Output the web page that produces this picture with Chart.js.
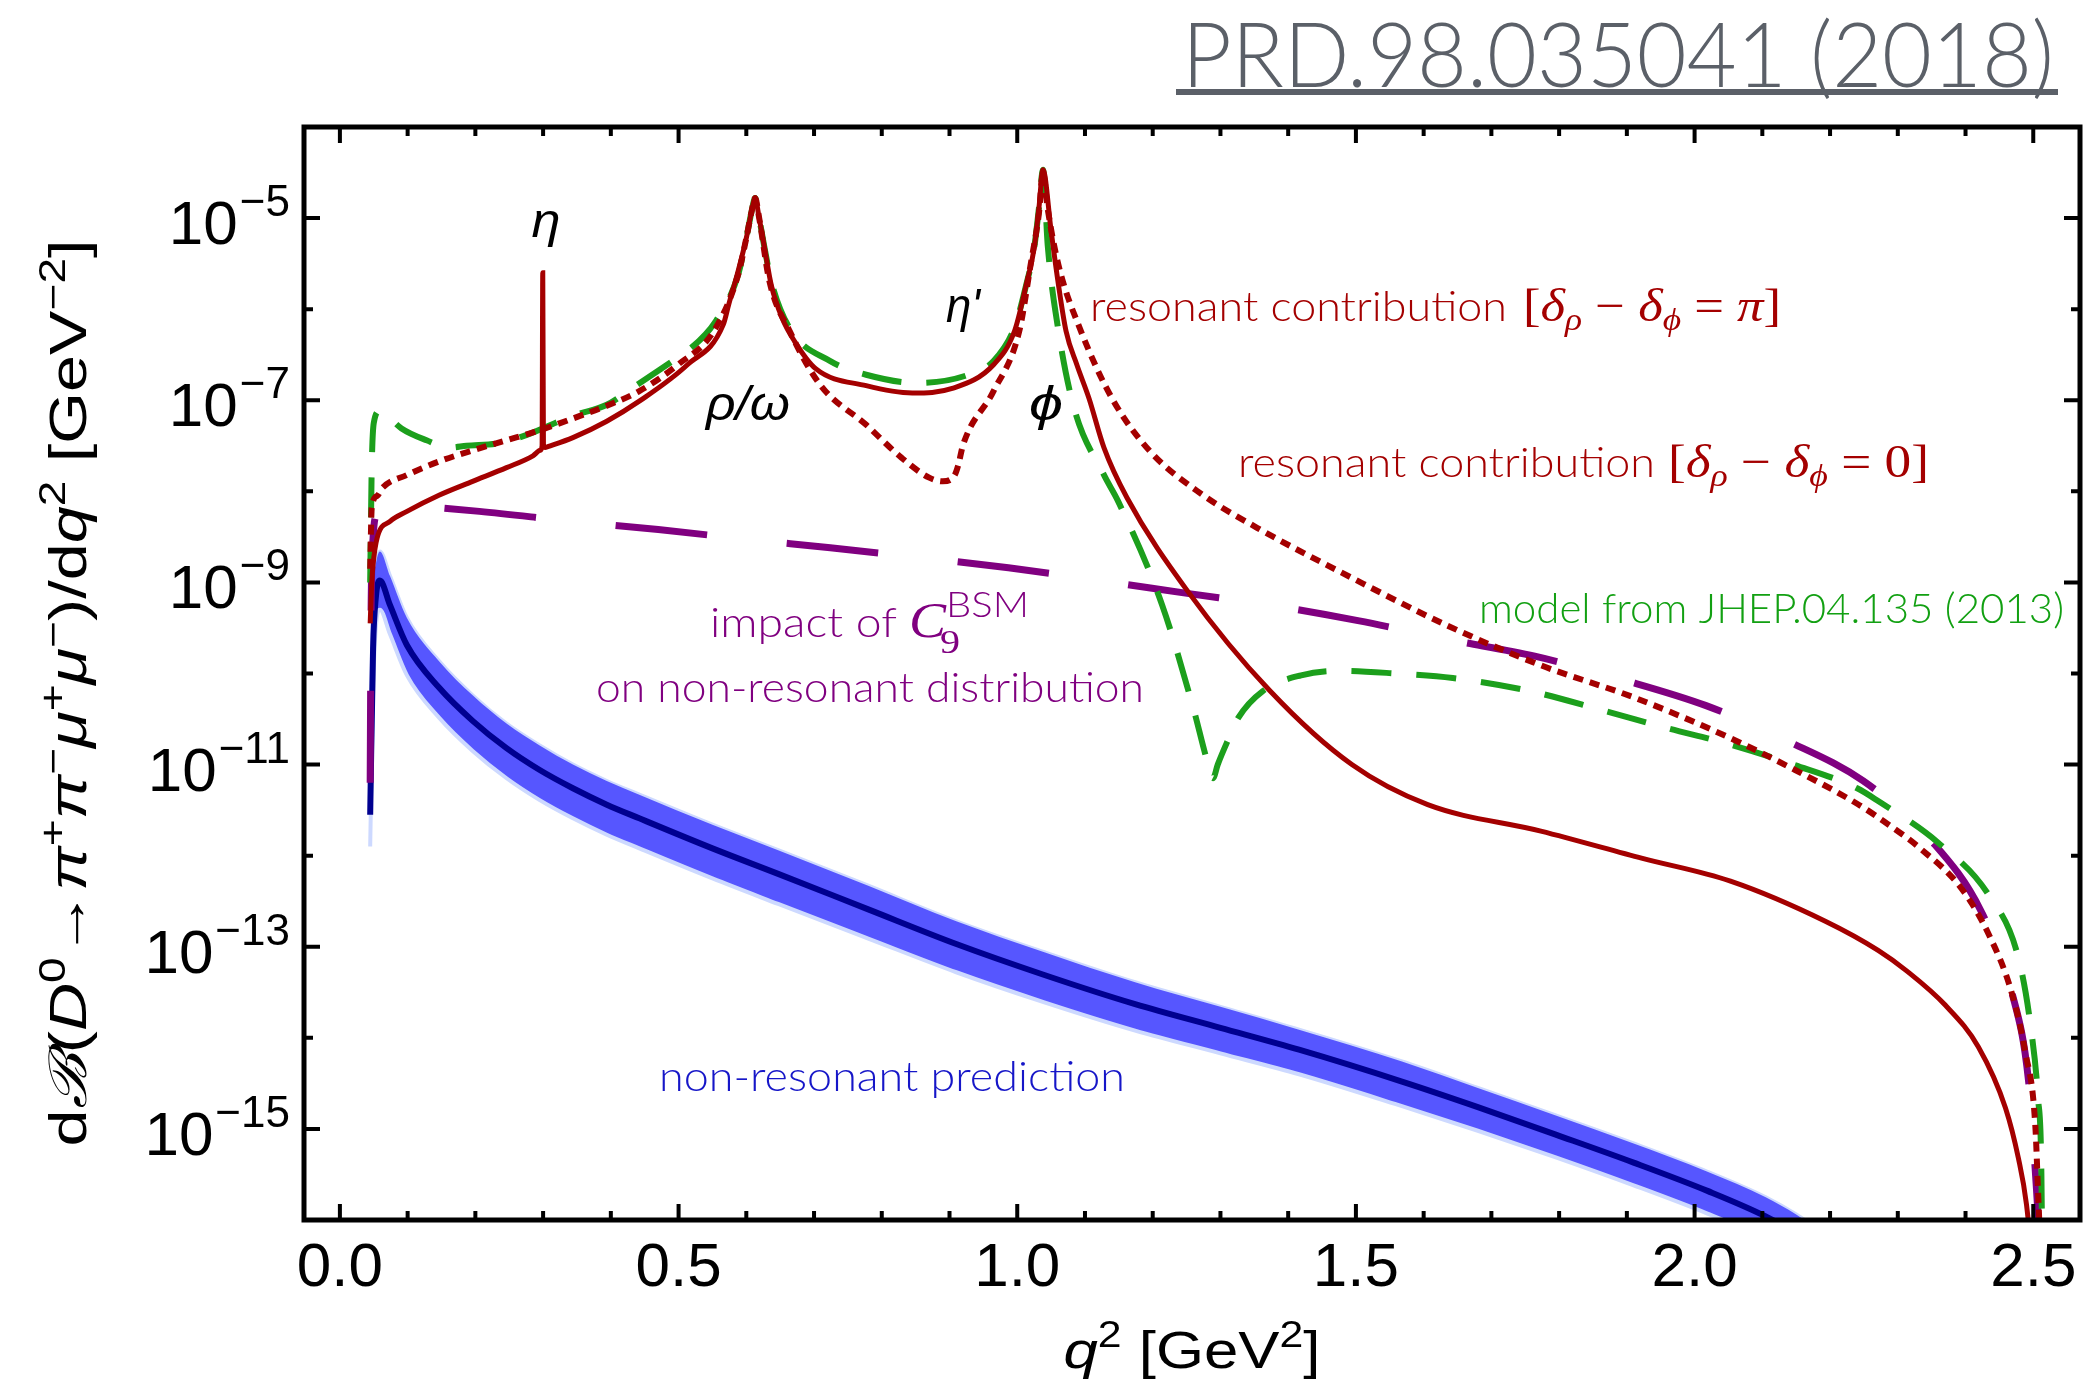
<!DOCTYPE html>
<html lang="en">
<head>
<meta charset="UTF-8">
<title>D0 to pi pi mu mu differential branching ratio</title>
<script src="https://cdn.jsdelivr.net/npm/chart.js"></script>
<style>
  html, body { margin: 0; padding: 0; background: #fff; }
  #wrap { width: 2091px; height: 1386px; }
</style>
</head>
<body>
<div id="wrap"><canvas id="myChart" width="2091" height="1386"></canvas></div>
<script>
// q^2 in GeV^2, curves stored as log10(dB/dq^2)

// resonant contribution, delta_rho - delta_phi = pi (solid)
const resPiQ = [0.0447,0.047,0.049,0.055,0.074,0.099,0.147,0.196,0.246,0.285,0.296,0.2985,0.2995,0.3005,0.303,0.307,0.344,0.394,0.442,0.513,0.566,0.574,0.588,0.600,0.608,0.613,0.619,0.627,0.637,0.653,0.671,0.702,0.777,0.845,0.904,0.965,0.996,1.013,1.025,1.032,1.038,1.050,1.060,1.072,1.088,1.106,1.128,1.162,1.251,1.373,1.494,1.606,1.773,1.923,2.053,2.193,2.271,2.314,2.370,2.419,2.459,2.478,2.490,2.497,2.502];
const resPiLog = [-9.45,-9.0,-8.80,-8.51,-8.33,-8.22,-8.04,-7.89,-7.74,-7.61,-7.55,-7.50,-5.60,-7.50,-7.52,-7.51,-7.41,-7.23,-7.01,-6.61,-6.17,-5.95,-5.58,-5.22,-4.92,-4.78,-5.0,-5.33,-5.74,-6.10,-6.35,-6.65,-6.84,-6.92,-6.87,-6.61,-6.24,-5.74,-5.33,-4.89,-4.47,-5.14,-5.69,-6.24,-6.61,-6.98,-7.52,-8.07,-9.09,-10.19,-11.00,-11.44,-11.73,-12.03,-12.28,-12.72,-13.04,-13.27,-13.64,-14.10,-14.77,-15.32,-15.83,-16.4,-17.2];

// resonant contribution, delta_rho - delta_phi = 0 (dotted)
const res0Q = [0.0447,0.047,0.055,0.063,0.099,0.147,0.196,0.246,0.295,0.344,0.394,0.442,0.499,0.552,0.588,0.600,0.608,0.613,0.619,0.634,0.664,0.709,0.777,0.829,0.870,0.890,0.907,0.913,0.920,0.965,1.003,1.020,1.032,1.038,1.045,1.061,1.094,1.140,1.196,1.274,1.354,1.494,1.634,1.773,1.913,2.053,2.146,2.240,2.271,2.333,2.394,2.434,2.468,2.488,2.503,2.507,2.510,2.512];
const res0Log = [-8.85,-8.18,-8.05,-7.96,-7.82,-7.67,-7.55,-7.44,-7.33,-7.20,-7.06,-6.90,-6.61,-6.24,-5.62,-5.22,-4.92,-4.78,-5.0,-5.69,-6.24,-6.83,-7.27,-7.63,-7.85,-7.89,-7.83,-7.71,-7.49,-6.90,-6.24,-5.50,-4.95,-4.50,-4.9,-5.52,-6.24,-6.98,-7.56,-8.04,-8.40,-8.95,-9.47,-9.91,-10.27,-10.71,-11.05,-11.43,-11.58,-11.92,-12.36,-12.86,-13.50,-14.15,-14.96,-15.68,-16.3,-17.2];

// model from JHEP.04.135 (dashed green)
const jhepQ = [0.0447,0.047,0.050,0.059,0.074,0.091,0.128,0.162,0.187,0.236,0.276,0.344,0.394,0.431,0.491,0.513,0.555,0.588,0.600,0.608,0.613,0.619,0.627,0.637,0.664,0.724,0.777,0.853,0.928,0.965,0.996,1.013,1.025,1.032,1.038,1.045,1.060,1.084,1.128,1.149,1.214,1.261,1.280,1.289,1.296,1.310,1.326,1.363,1.419,1.475,1.559,1.643,1.755,1.867,1.960,2.053,2.146,2.240,2.271,2.360,2.434,2.478,2.497,2.507,2.512,2.514];
const jhepLog = [-9.0,-7.74,-7.25,-7.12,-7.20,-7.31,-7.44,-7.52,-7.50,-7.47,-7.38,-7.17,-7.05,-6.87,-6.57,-6.46,-6.13,-5.62,-5.22,-4.92,-4.78,-5.0,-5.33,-5.70,-6.21,-6.57,-6.72,-6.81,-6.72,-6.57,-6.2,-5.74,-5.33,-4.89,-4.47,-5.3,-6.2,-7.09,-7.82,-8.11,-9.25,-10.41,-10.95,-11.15,-11.0,-10.75,-10.49,-10.19,-10.02,-9.97,-10.0,-10.05,-10.19,-10.41,-10.60,-10.78,-11.0,-11.26,-11.40,-11.86,-12.43,-13.12,-13.92,-14.66,-15.50,-17.2];

// non-resonant with C9 BSM (long dashes)
const bsmQ = [0.0447,0.046,0.049,0.055,0.063,0.081,0.206,0.344,0.470,0.606,0.724,0.860,0.987,1.122,1.251,1.382,1.503,1.639,1.764,1.895,2.016,2.137,2.249,2.350,2.423,2.468,2.493,2.503,2.509,2.512];
const bsmLog = [-11.2,-9.39,-8.51,-8.24,-8.13,-8.14,-8.22,-8.33,-8.42,-8.53,-8.62,-8.73,-8.84,-8.98,-9.12,-9.26,-9.42,-9.63,-9.81,-10.07,-10.35,-10.74,-11.18,-11.84,-12.61,-13.49,-14.47,-15.46,-16.3,-17.2];

// non-resonant SM prediction: central value and band edges
const nrQ = [0.0447,0.049,0.053,0.059,0.074,0.099,0.147,0.196,0.246,0.295,0.344,0.394,0.442,0.55,0.647,0.78,0.91,1.04,1.174,1.30,1.416,1.568,1.68,1.794,1.91,2.019,2.105,2.15,2.2];
const nrMid = [-11.55,-9.72,-9.17,-8.98,-9.25,-9.69,-10.16,-10.52,-10.82,-11.06,-11.26,-11.44,-11.59,-11.92,-12.20,-12.59,-12.97,-13.31,-13.63,-13.89,-14.13,-14.48,-14.76,-15.06,-15.37,-15.68,-15.96,-16.15,-16.4];
const nrHi = [-10.9,-9.1,-8.8,-8.66,-8.93,-9.39,-9.87,-10.24,-10.55,-10.79,-11.00,-11.18,-11.33,-11.66,-11.94,-12.33,-12.72,-13.06,-13.39,-13.66,-13.91,-14.26,-14.55,-14.85,-15.16,-15.47,-15.75,-15.94,-16.2];
const nrLo = [-11.9,-10.2,-9.5,-9.30,-9.57,-10.02,-10.49,-10.85,-11.15,-11.39,-11.59,-11.77,-11.92,-12.25,-12.53,-12.91,-13.28,-13.61,-13.92,-14.17,-14.40,-14.75,-15.02,-15.31,-15.62,-15.93,-16.21,-16.40,-16.65];

// axes
const xTickVals = [0, 0.5, 1, 1.5, 2, 2.5];
const xTickLabels = ['0.0', '0.5', '1.0', '1.5', '2.0', '2.5'];
const yTickExp = [-5, -7, -9, -11, -13, -15];

const RED = '#a40000', GREEN = '#1c9f1c', PURPLE = '#800080';
const SANS = '"Liberation Sans", Arial, sans-serif';
const SERIF = '"Liberation Serif", "Times New Roman", serif';
const THIN = 'Lato, "Open Sans", sans-serif';

function pts(qs, logs) {
  return qs.map((q, i) => ({ x: q, y: Math.pow(10, logs[i]) }));
}

// draws a run of differently styled pieces, squeezed to a given width
function rich(ctx, segs, x, y, width, align, color) {
  let w = 0;
  for (const s of segs) { ctx.font = s.f; s.w = ctx.measureText(s.t).width; w += s.w; }
  const k = width ? width / w : 1;
  const tw = w * k;
  const x0 = align === 'center' ? x - tw / 2 : align === 'right' ? x - tw : x;
  ctx.save();
  ctx.translate(x0, y);
  ctx.scale(k, 1);
  ctx.textAlign = 'left';
  ctx.textBaseline = 'alphabetic';
  let cx = 0;
  for (const s of segs) {
    ctx.font = s.f;
    ctx.fillStyle = s.c || color || '#000';
    ctx.fillText(s.t, cx, s.dy || 0);
    cx += s.w;
  }
  ctx.restore();
}

const frame = {
  id: 'frame',
  afterDraw(chart) {
    const { ctx, chartArea: a, scales: { x, y } } = chart;
    ctx.save();
    ctx.strokeStyle = '#000';
    ctx.lineWidth = 4;
    ctx.beginPath();
    for (let i = 0; i <= 25; i++) {
      const px = x.getPixelForValue(i / 10);
      const len = i % 5 === 0 ? 16 : 9;
      ctx.moveTo(px, a.bottom); ctx.lineTo(px, a.bottom - len);
      ctx.moveTo(px, a.top); ctx.lineTo(px, a.top + len);
    }
    for (let e = -15; e <= -5; e++) {
      const py = y.getPixelForValue(Math.pow(10, e));
      const len = e % 2 !== 0 ? 16 : 9;
      ctx.moveTo(a.left, py); ctx.lineTo(a.left + len, py);
      ctx.moveTo(a.right, py); ctx.lineTo(a.right - len, py);
    }
    ctx.stroke();
    ctx.lineWidth = 5;
    ctx.strokeRect(a.left, a.top, a.right - a.left, a.bottom - a.top);

    // tick labels
    ctx.fillStyle = '#000';
    ctx.textBaseline = 'alphabetic';
    ctx.textAlign = 'center';
    ctx.font = '62px ' + SANS;
    xTickVals.forEach((v, i) => ctx.fillText(xTickLabels[i], x.getPixelForValue(v), 1286));
    yTickExp.forEach(e => {
      const py = y.getPixelForValue(Math.pow(10, e));
      const sup = '\u2212' + (-e);
      ctx.textAlign = 'right';
      ctx.font = '44px ' + SANS;
      const sw = ctx.measureText(sup).width;
      ctx.fillText(sup, 290, py - 2);
      ctx.font = '62px ' + SANS;
      ctx.fillText('10', 290 - sw - 2, py + 26);
    });

    // axis titles
    const f = '52px ' + SANS, fi = 'italic 52px ' + SANS, fs = '36px ' + SANS, up = -21;
    rich(ctx, [
      { t: 'q', f: fi }, { t: '2', f: fs, dy: up }, { t: ' [GeV', f: f }, { t: '2', f: fs, dy: up }, { t: ']', f: f }
    ], 1192, 1368, 257, 'center');
    ctx.save();
    ctx.translate(86, 693);
    ctx.rotate(-Math.PI / 2);
    rich(ctx, [
      { t: 'd', f: f }, { t: '\u212C', f: 'italic 52px ' + SERIF }, { t: '(', f: f }, { t: 'D', f: fi },
      { t: '0', f: fs, dy: up }, { t: '\u2192', f: f }, { t: '\u03C0', f: fi }, { t: '+', f: fs, dy: up },
      { t: '\u03C0', f: fi }, { t: '\u2212', f: fs, dy: up }, { t: '\u03BC', f: fi }, { t: '+', f: fs, dy: up },
      { t: '\u03BC', f: fi }, { t: '\u2212', f: fs, dy: up }, { t: ')/d', f: f }, { t: 'q', f: fi },
      { t: '2', f: fs, dy: up }, { t: ' [GeV', f: f }, { t: '\u22122', f: fs, dy: up }, { t: ']', f: f }
    ], 0, 0, 907, 'center');
    ctx.restore();

    // resonance names
    const gk = 'italic 48px ' + SANS;
    rich(ctx, [{ t: '\u03B7', f: gk }], 546, 237, 29, 'center');
    rich(ctx, [{ t: '\u03C1/\u03C9', f: gk }], 748, 420, 84, 'center');
    rich(ctx, [{ t: "\u03B7'", f: gk }], 963, 322, 34, 'center');
    rich(ctx, [{ t: '\u03D5', f: gk }], 1046, 420, 34, 'center');

    // curve captions
    const tf = '300 42px ' + THIN;
    const mi = 'italic 46px ' + SERIF, mu = '46px ' + SERIF, ms = 'italic 31px ' + SERIF;
    rich(ctx, [{ t: 'resonant contribution', f: tf }], 1090, 321, 417, 'left', RED);
    rich(ctx, [
      { t: '[', f: mu }, { t: '\u03B4', f: mi }, { t: '\u03C1', f: ms, dy: 9 }, { t: ' \u2212 ', f: mu },
      { t: '\u03B4', f: mi }, { t: '\u03D5', f: ms, dy: 9 }, { t: ' = ', f: mu }, { t: '\u03C0', f: mi }, { t: ']', f: mu }
    ], 1523, 321, 258, 'left', RED);
    rich(ctx, [{ t: 'resonant contribution', f: tf }], 1238, 477, 417, 'left', RED);
    rich(ctx, [
      { t: '[', f: mu }, { t: '\u03B4', f: mi }, { t: '\u03C1', f: ms, dy: 9 }, { t: ' \u2212 ', f: mu },
      { t: '\u03B4', f: mi }, { t: '\u03D5', f: ms, dy: 9 }, { t: ' = 0', f: mu }, { t: ']', f: mu }
    ], 1668, 477, 261, 'left', RED);
    rich(ctx, [{ t: 'model from JHEP.04.135 (2013)', f: tf }], 1479, 623, 585, 'left', '#12a012');
    rich(ctx, [{ t: 'impact of', f: tf }], 710, 637, 187, 'left', PURPLE);
    rich(ctx, [{ t: 'C', f: 'italic 50px ' + SERIF }], 909, 637, 37, 'left', PURPLE);
    rich(ctx, [{ t: '9', f: '34px ' + SERIF }], 940, 653, 20, 'left', PURPLE);
    rich(ctx, [{ t: 'BSM', f: '300 36px ' + THIN }], 946, 617, 83, 'left', PURPLE);
    rich(ctx, [{ t: 'on non-resonant distribution', f: tf }], 596, 702, 548, 'left', PURPLE);
    rich(ctx, [{ t: 'non-resonant prediction', f: tf }], 659, 1091, 466, 'left', '#1616c8');

    // reference tag
    rich(ctx, [{ t: 'PRD.98.035041 (2018)', f: '300 90px ' + THIN }], 1182, 87, 872, 'left', '#5b6068');
    ctx.fillStyle = '#5b6068';
    ctx.fillRect(1176, 89, 882, 6);
    ctx.restore();
  }
};

const ctx = document.getElementById('myChart');
new Chart(ctx, {
  type: 'line',
  data: {
    datasets: [
      { data: pts(res0Q, res0Log), borderColor: RED, borderWidth: 6, borderDash: [10, 7], order: 1 },
      { data: pts(resPiQ, resPiLog), borderColor: RED, borderWidth: 5, order: 2 },
      { data: pts(jhepQ, jhepLog), borderColor: GREEN, borderWidth: 6, borderDash: [40, 25], order: 3 },
      { data: pts(bsmQ, bsmLog), borderColor: PURPLE, borderWidth: 7, borderDash: [92, 80], order: 4 },
      { data: pts(nrQ, nrMid), borderColor: '#000090', borderWidth: 6, order: 5 },
      { data: pts(nrQ, nrLo), borderColor: '#cdd9ff', borderWidth: 4, backgroundColor: '#5656ff', fill: 6, order: 6 },
      { data: pts(nrQ, nrHi), borderColor: '#cdd9ff', borderWidth: 4, order: 7 }
    ]
  },
  options: {
    responsive: false,
    animation: false,
    events: [],
    layout: { padding: { top: 127, right: 11, left: 0, bottom: 0 } },
    plugins: { legend: { display: false }, tooltip: { enabled: false } },
    elements: {
      point: { radius: 0 },
      line: { cubicInterpolationMode: 'monotone', fill: false }
    },
    scales: {
      x: {
        type: 'linear', min: -0.053, max: 2.569,
        grid: { display: false }, border: { display: false }, ticks: { display: false },
        afterFit: s => { s.height = 166; }
      },
      y: {
        type: 'logarithmic', min: 1e-16, max: 1e-4,
        grid: { display: false }, border: { display: false }, ticks: { display: false },
        afterFit: s => { s.width = 304; }
      }
    }
  },
  plugins: [frame]
});
</script>
</body>
</html>
